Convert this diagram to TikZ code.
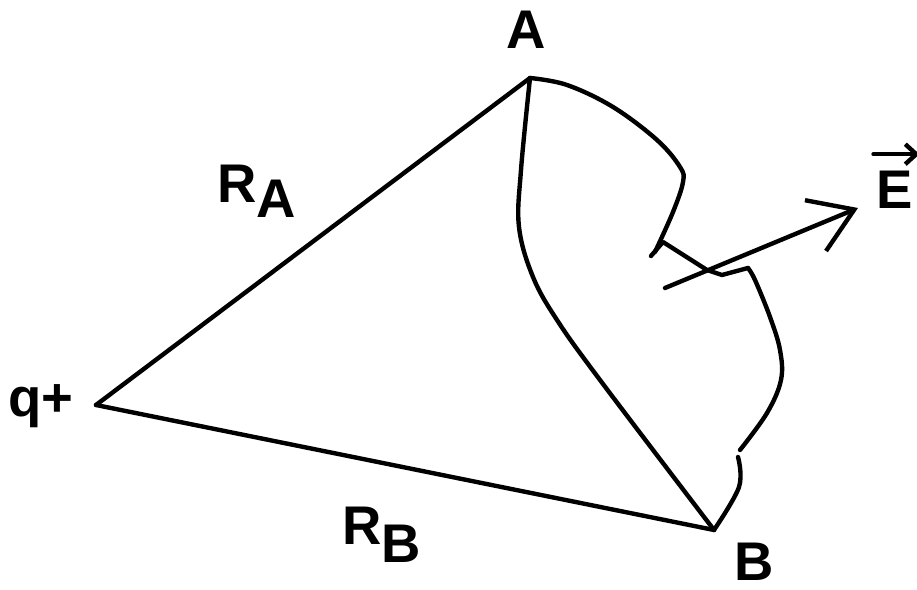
\documentclass[tikz,border=0pt]{standalone}
\usepackage{fontspec}
\setmainfont{Liberation Sans}
\usepackage{tikz}
\usetikzlibrary{arrows.meta,positioning,calc}

\begin{document}
\begin{tikzpicture}[x=0.02cm, y=-0.02cm,
        pen/.style={draw=black, line width=2.5pt, line cap=round, line join=round},
        lbl/.style={inner sep=0pt, font=\fontsize{31}{31}\selectfont\bfseries},
        fieldarrow/.style={pen, -{Straight Barb[length=0.84cm, width=1.1cm, line width=2.5pt]}}
    ]

    \useasboundingbox (0,0) rectangle (917,590);

    % Corners
    \coordinate (A) at (530,78);
    \coordinate (B) at (714,530);
    \coordinate (q) at (96,405);

    % Labels
    \node[lbl, anchor=base] (lblA) at (526,49) {A};
    \node[lbl, anchor=base] (lblB) at (754,581) {B};
    \node[lbl, anchor=base west] (lblq) at (8,417) {q+};
    \node[lbl, anchor=base west] (lblRA) at (217,203) {R\raisebox{-0.3cm}{A}};
    \node[lbl, anchor=base west] (lblRB) at (342,545) {R\raisebox{-0.36cm}{B}};
    \node[lbl, anchor=base] (lblE) at (895,209) {E};

    % Distances
    \draw[pen] (q) -- (A);
    \draw[pen] (q) -- (B);

    % Inner path
    \draw[pen] plot[smooth, tension=0.6] coordinates {(A) (521,170) (519,227) (533,277) (557,320) (600,380) (B)};

    % Outer path
    \draw[pen] plot[smooth, tension=0.6] coordinates {(A) (567,85) (613,107) (657,140) (680,167) (683,182) (673,212) (655,252)};
    \draw[pen] (651,256) -- (663,242) -- (707,270) -- (722,275) -- (748,268);
    \draw[pen] plot[smooth, tension=0.6] coordinates {(748,268) (755,280) (770,317) (780,350) (781,380) (767,413) (740,450)};
    \draw[pen] plot[smooth, tension=0.6] coordinates {(738,457) (739,487) (B)};

    % Field vector
    \coordinate (Etail) at (665,288);
    \coordinate (Etip) at (858,208);
    \draw[fieldarrow] (Etail) -- (Etip);
    \draw[pen, -{Straight Barb[length=0.22cm, width=0.4cm]}] ([xshift=-0.06cm, yshift=0.34cm]lblE.north west) -- ([xshift=0.12cm, yshift=0.34cm]lblE.north east);

\end{tikzpicture}
\end{document}
